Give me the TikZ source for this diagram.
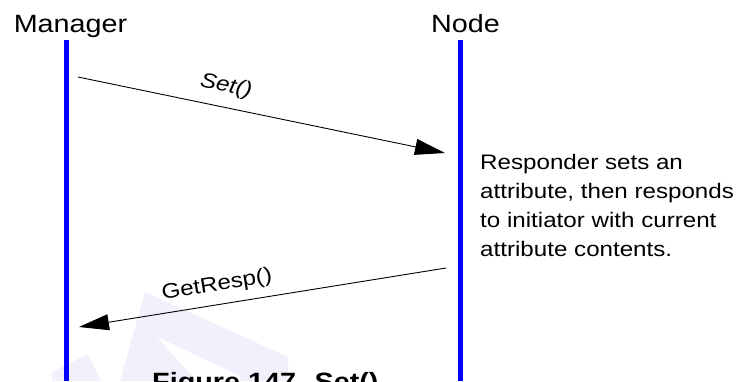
\documentclass[tikz,border=0pt]{standalone}
\usepackage{fontspec}
\setmainfont{Liberation Sans}
\usetikzlibrary{arrows.meta}
\definecolor{lifeblue}{RGB}{0,0,255}
\definecolor{wmark}{RGB}{241,241,252}
\tikzset{
  lifeline/.style={line width=5pt, draw=lifeblue},
  msg/.style={line width=0.9pt, draw=black, -{Triangle[length=30pt,width=16pt]}},
  actor/.style={inner sep=0pt, font=\fontsize{25}{30}\selectfont, xscale=1.15},
  msglabel/.style={inner sep=0pt, font=\fontsize{21}{25}\selectfont},
  note/.style={inner sep=0pt, align=left, font=\fontsize{21}{29}\selectfont, xscale=1.15},
  caption/.style={inner sep=0pt, font=\fontsize{25}{30}\selectfont\bfseries, xscale=1.15},
  watermark/.style={fill=wmark, draw=none}
}
\begin{document}
\begin{tikzpicture}[x=1pt,y=-1pt]
\useasboundingbox (0,0) rectangle (742,381);
\clip (0,0) rectangle (742,381);
% faint watermark
\fill[watermark] (145,292) -- (288,357) -- (288,381) -- (120,381) -- cycle;
\fill[white] (157,337) -- (240,376) -- (240,381) -- (197,381) -- cycle;
\fill[watermark] (52,372) -- (88,354) -- (101,381) -- (52,381) -- cycle;
% actors
\node[actor, anchor=base] (mgr) at (70.5,32) {Manager};
\node[actor, anchor=base] (nd) at (465.5,32) {Node};
% lifelines
\coordinate (mtop) at (66,40);
\coordinate (mbot) at (66,381);
\coordinate (ntop) at (460,40);
\coordinate (nbot) at (460,381);
\draw[lifeline] (mtop) -- (mbot);
\draw[lifeline] (ntop) -- (nbot);
% messages
\coordinate (s1) at (78,77);
\coordinate (s2) at (445,153);
\coordinate (g1) at (446,268);
\coordinate (g2) at (79,327);
\draw[msg] (s1) -- (s2);
\draw[msg] (g1) -- (g2);
\node[msglabel, rotate=-11.7, xscale=1.15] (setl) at (226,86) {\itshape Set()};
\node[msglabel, rotate=9.1, xscale=1.15] (getl) at (217,285) {GetResp()};
% note
\node[note, anchor=north west] (resp) at (480,154) {Responder sets an\\attribute, then responds\\to initiator with current\\attribute contents.};
% caption (cut off)
\node[caption, anchor=base west] (cap) at (152,390) {Figure 147. Set()};
\end{tikzpicture}
\end{document}
